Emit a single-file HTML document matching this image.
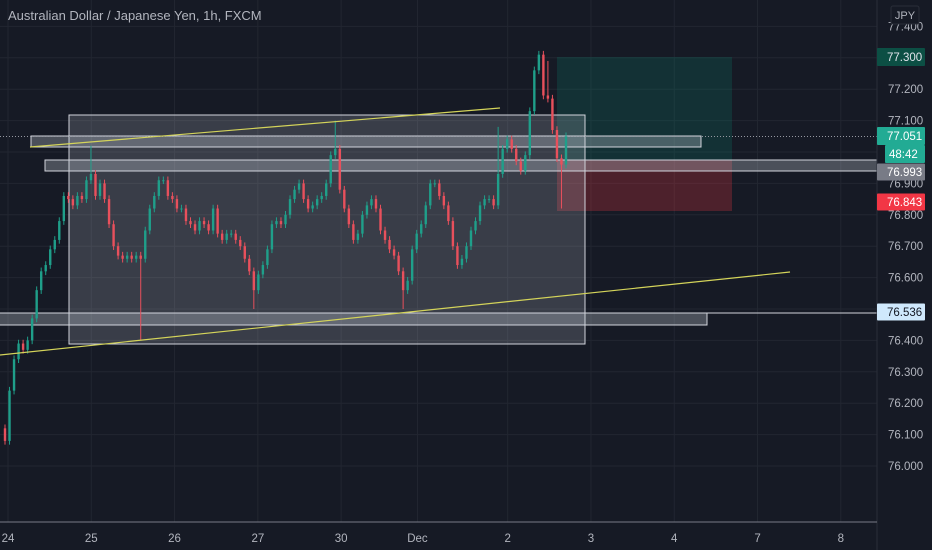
<!DOCTYPE html>
<html><head><meta charset="utf-8"><style>
html,body{margin:0;padding:0;background:#161a25;width:932px;height:550px;overflow:hidden;font-family:"Liberation Sans",sans-serif}
svg{display:block}
</style></head><body>
<svg id="chart" width="932" height="550" xmlns="http://www.w3.org/2000/svg">
<rect width="932" height="550" fill="#161a25"/>
<g id="grid"></g>
<g id="overlays-back"></g>
<g id="candles"></g>
<g id="overlays-front"></g>
<line x1="877" y1="0" x2="877" y2="550" stroke="#2a2e39"/>
<line x1="0" y1="522" x2="877" y2="522" stroke="#787b86"/>
<g id="yaxis"></g>
<g id="xaxis"></g>
<text x="8" y="20" fill="#b2b5be" font-size="13">Australian Dollar / Japanese Yen, 1h, FXCM</text>
<rect x="891" y="6" width="28" height="18" fill="#161a25" stroke="#2a2e39" rx="2"/>
<text x="905" y="19" fill="#b2b5be" font-size="11" text-anchor="middle">JPY</text>
</svg>
<script>
const closes=[76.08,76.24,76.34,76.39,76.37,76.40,76.47,76.56,76.62,76.64,76.69,76.72,76.78,76.86,76.85,76.83,76.86,76.85,76.91,76.93,76.86,76.90,76.85,76.77,76.70,76.67,76.66,76.67,76.66,76.67,76.66,76.75,76.82,76.86,76.91,76.91,76.86,76.85,76.82,76.82,76.78,76.77,76.75,76.78,76.77,76.75,76.82,76.74,76.72,76.74,76.74,76.72,76.70,76.66,76.62,76.56,76.61,76.64,76.69,76.77,76.78,76.77,76.80,76.85,76.88,76.90,76.85,76.82,76.83,76.85,76.86,76.90,76.99,77.01,76.88,76.82,76.77,76.72,76.74,76.80,76.83,76.85,76.82,76.75,76.72,76.69,76.67,76.62,76.56,76.59,76.69,76.74,76.77,76.83,76.90,76.90,76.86,76.83,76.78,76.70,76.64,76.66,76.70,76.75,76.78,76.83,76.85,76.85,76.83,76.93,77.01,77.04,77.01,76.97,76.94,76.99,77.13,77.26,77.31,77.18,77.17,77.07,76.98,76.96,77.05];
const firstOpen=76.12;
const spikeIdx=[0,19,30,55,73,88,109,118,120,123];
const spikePrice=[76.07,77.02,76.40,76.50,77.10,76.50,77.08,77.32,77.29,76.82];
const priceTicks=["77.400","77.300","77.200","77.100","77.000","76.900","76.800","76.700","76.600","76.500","76.400","76.300","76.200","76.100","76.000"];
const dayLabels=["24","25","26","27","30","Dec","2","3","4","7","8"];
const dayPos=[0,24,48,72,96,118,144,168,192,216,240];

const NS="http://www.w3.org/2000/svg";
const y=p=>466-(p-76)*314;
const x0=5;
const xi=i=>x0+i*(561/(closes.length-1));
const xh=h=>8+h*3.47;
function mk(tag,attrs,parent){const e=document.createElementNS(NS,tag);for(const k in attrs)e.setAttribute(k,attrs[k]);parent.appendChild(e);return e;}
const grid=document.getElementById('grid'),ya=document.getElementById('yaxis'),xa=document.getElementById('xaxis');
priceTicks.forEach(t=>{const yy=y(parseFloat(t));
 const l=mk('line',{x1:0,x2:877,y1:yy,y2:yy,stroke:'#222631'},grid);
 
 
 const tx=mk('text',{x:888,y:yy+4,fill:'#b2b5be','font-size':11.5},ya);tx.textContent=t;
 
 
});
dayLabels.forEach((d,k)=>{const xx=xh(dayPos[k]);
 const l=mk('line',{x1:xx,x2:xx,y1:0,y2:522,stroke:'#222631'},grid);
 
 
 const tx=mk('text',{x:xx,y:542,fill:'#b2b5be','font-size':11.5,'text-anchor':'middle'},xa);tx.textContent=d;
 
 
});
const back=document.getElementById('overlays-back');
function box(x,y0,w,h,fill,stroke,name,parent){const r=mk('rect',{x:x,y:y0,width:w,height:h,fill:fill,stroke:stroke||'none'},parent||back);
 
 return r;}
box(557,57,175,103,'rgba(8,153,129,0.18)',null,'take-profit-zone');
box(557,160,175,51,'rgba(242,54,69,0.25)',null,'stop-loss-zone');
box(69,115,516,229,'rgba(200,205,215,0.2)','#d1d4dc','range-rectangle');
box(31,136,670,11,'rgba(200,205,215,0.3)','#d1d4dc','resistance-zone-upper');
box(45,160,832,11,'rgba(200,205,215,0.3)','#d1d4dc','resistance-zone-lower');
box(-2,313,709,12,'rgba(200,205,215,0.3)','#d1d4dc','support-zone');
const dl=mk('line',{x1:0,x2:877,y1:136.5,y2:136.5,stroke:'#9598a1','stroke-dasharray':'1,2'},back);


const sl=mk('line',{x1:700,x2:877,y1:313,y2:313,stroke:'#d1d4dc'},back);


const cg=document.getElementById('candles');
closes.forEach((c,i)=>{const o=i===0?firstOpen:closes[i-1];let hi=Math.max(o,c)+0.012,lo=Math.min(o,c)-0.012;
 const s=spikeIdx.indexOf(i);if(s>=0){const sp=spikePrice[s];if(sp>hi)hi=sp;if(sp<lo)lo=sp;}
 const col=c>=o?'#1f9f8a':'#e8505c';const xx=xi(i);
 const w=mk('line',{x1:xx,x2:xx,y1:y(hi),y2:y(lo),stroke:col,'stroke-width':1},cg);
 
 
 const b=mk('rect',{x:xx-1.2,y:y(Math.max(o,c)),width:2.4,height:Math.max(1,Math.abs(y(o)-y(c))),fill:col},cg);
 
 
});
const fr=document.getElementById('overlays-front');
[[30,147,500,108,'trendline-upper'],[0,355,790,272,'trendline-lower']].forEach(a=>{
 const l=mk('line',{x1:a[0],y1:a[1],x2:a[2],y2:a[3],stroke:'#d4d45a','stroke-width':1.2},fr);
 
 
});
function tag(yc,h,bg,fg,txt,name,x){const r=mk('rect',{x:x||877,y:yc-h/2,width:(x?925-x:48),height:h,fill:bg,rx:1},ya);
 
 
 const t=mk('text',{x:(x?x+4:887),y:yc+4,fill:fg,'font-size':11.5},ya);t.textContent=txt;
 
 }
tag(57,18,'#0c4f44','#e0e3eb','77.300','tp-price-tag');
tag(136,18,'#22ab94','#ffffff','77.051','last-price-tag');
tag(154,18,'#22ab94','#ffffff','48:42','countdown-tag',885);
tag(172,17,'#787b86','#ffffff','76.993','zone-price-tag');
tag(202,17,'#f23645','#ffffff','76.843','sl-price-tag');
tag(312,17,'#cfe8fc','#131722','76.536','support-price-tag');
</script>
</body></html>
